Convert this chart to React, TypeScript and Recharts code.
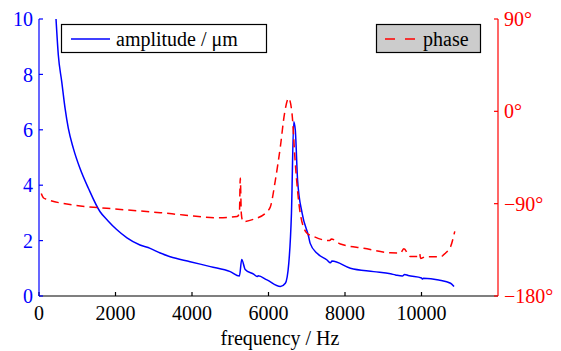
import { LineChart, Line, XAxis, YAxis } from "recharts";

// amplitude trace (frequency in Hz, amplitude in µm)
const ampFreq = [
  445, 505, 594, 681, 767, 898, 1073, 1291, 1597, 1800, 2030, 2300, 2640, 2906, 3170, 3430,
  3950, 4480, 5000, 5240, 5300, 5390, 5620, 5700, 5730, 5960, 6310, 6440, 6530, 6600,
  6660, 6700, 6760, 6880, 7050, 7090, 7270, 7530, 7620, 7660, 8140, 8750, 9190, 9320,
  9500, 9560, 9650, 10000, 10020, 10050, 10450, 10760, 10850,
];
const ampValues = [
  10, 8.7, 7.74, 6.78, 6.05, 5.33, 4.6, 3.89, 3.04, 2.72, 2.4, 2.1, 1.84, 1.72, 1.55, 1.42,
  1.24, 1.06, 0.88, 0.72, 1.32, 0.96, 0.78, 0.7, 0.73, 0.58, 0.34, 0.46, 1.18, 2.98,
  6.29, 6.0, 4.19, 2.98, 2.14, 1.9, 1.54, 1.3, 1.2, 1.26, 1.0, 0.88, 0.8, 0.76,
  0.72, 0.78, 0.74, 0.65, 0.61, 0.64, 0.58, 0.46, 0.34,
];

// phase trace (degrees)
const phaseFreq = [
  60, 120, 200, 900, 1770, 2640, 3170, 3780, 4650, 5180, 5240, 5262, 5290, 5330, 5610,
  5960, 6050, 6180, 6310, 6420, 6527, 6614, 6700, 6830, 7007, 7180, 7443, 7600, 7644,
  7880, 8490, 9188, 9450, 9540, 9700, 9940, 9955, 9975, 10100, 10500, 10630, 10760, 10870,
];
const phaseValues = [
  -80, -84.5, -85.7, -91.3, -94.5, -97.1, -98.8, -101, -103.7, -102.5, -99, -65, -100, -107.5, -105.2,
  -97.8, -93, -67, -34.5, -1.9, 12.7, -1.9, -50.6, -99.4, -118.9, -122, -125.4, -126, -124.4,
  -129.3, -133.5, -137.8, -138, -134, -141.5, -141.5, -139, -143.5, -141.7, -141.7, -138, -132, -117,
];

const freqTicks = [0, 2000, 4000, 6000, 8000, 10000];
const ampTicks = [0, 2, 4, 6, 8, 10];
const phaseTicks = [-180, -90, 0, 90];

const ampData = ampFreq.map((f, i) => ({ f, amp: ampValues[i] }));
const phaseData = phaseFreq.map((f, i) => ({ f, phase: phaseValues[i] }));

const BLUE = "#0000ff";
const RED = "#ff0000";
const FONT = "Liberation Serif";

const fmtPhase = (v: number) => (v < 0 ? `\u2212${Math.abs(v)}°` : `${v}°`);

// tick text drawn by hand so the serif face and colour sit in the style
function makeTick(color: string, dy: string, fmt: (v: number) => string = String) {
  return (props: any) => {
    const { x, y, payload, textAnchor } = props;
    return (
      <text x={x} y={y} dy={dy} textAnchor={textAnchor} fontSize={20} style={{ fill: color, fontFamily: FONT }}>
        {fmt(payload.value)}
      </text>
    );
  };
}

export default function App() {
  return (
    <div style={{ position: "absolute", left: 0, top: 0, width: 561, height: 351, background: "#fff" }}>
      <LineChart width={561} height={351} margin={{ top: 19, right: 0, bottom: 0, left: 0 }}>
        <XAxis
          dataKey="f"
          type="number"
          domain={[0, 12000]}
          ticks={freqTicks}
          interval={0}
          height={55}
          axisLine={{ stroke: "#000", strokeWidth: 1.2 }}
          tickLine={{ stroke: "#000", strokeWidth: 1.2 }}
          tickSize={-4}
          tickMargin={14}
          tick={makeTick("#000", "0.71em")}
        />
        <YAxis
          yAxisId="amp"
          width={39}
          domain={[0, 10]}
          ticks={ampTicks}
          interval={0}
          allowDataOverflow
          axisLine={{ stroke: BLUE, strokeWidth: 1.2 }}
          tickLine={{ stroke: BLUE, strokeWidth: 1.2 }}
          tickSize={-4}
          tickMargin={10}
          tick={makeTick(BLUE, "0.355em")}
        />
        <YAxis
          yAxisId="phase"
          orientation="right"
          width={63}
          domain={[-180, 90]}
          ticks={phaseTicks}
          interval={0}
          axisLine={{ stroke: RED, strokeWidth: 1.2 }}
          tickLine={{ stroke: RED, strokeWidth: 1.2 }}
          tickSize={-4}
          tickMargin={10}
          tick={makeTick(RED, "0.355em", fmtPhase)}
        />
        <Line
          yAxisId="amp"
          data={ampData}
          dataKey="amp"
          type="monotone"
          stroke={BLUE}
          strokeWidth={1.5}
          dot={false}
          isAnimationActive={false}
        />
        <Line
          yAxisId="phase"
          data={phaseData}
          dataKey="phase"
          type="monotone"
          stroke={RED}
          strokeWidth={1.5}
          strokeDasharray="8 5"
          dot={false}
          isAnimationActive={false}
        />
      </LineChart>

      {/* axis title and the two legend boxes */}
      <svg width={561} height={351} style={{ position: "absolute", left: 0, top: 0 }}>
        <text x={280} y={345} textAnchor="middle" fontSize={20} style={{ fontFamily: FONT }}>frequency / Hz</text>

        <rect x={61.5} y={24.5} width={205} height={28} fill="#fff" stroke="#000" strokeWidth={1.2} />
        <line x1={71} y1={39} x2={110} y2={39} stroke={BLUE} strokeWidth={1.5} />
        <text x={116} y={46} fontSize={20} style={{ fontFamily: FONT }}>amplitude / μm</text>

        <rect x={376.5} y={24.5} width={104} height={28} fill="#cccccc" stroke="#000" strokeWidth={1.2} />
        <line x1={385} y1={39} x2={415} y2={39} stroke={RED} strokeWidth={1.5} strokeDasharray="10 10" />
        <text x={423} y={46} fontSize={20} style={{ fontFamily: FONT }}>phase</text>
      </svg>
    </div>
  );
}
